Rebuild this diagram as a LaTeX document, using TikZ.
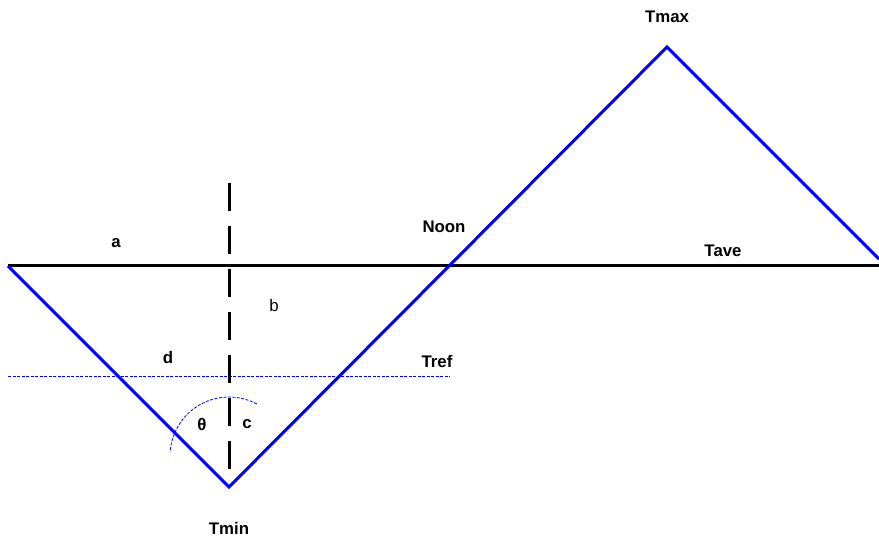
\documentclass[tikz,border=0pt]{standalone}
\usepackage{fontspec}
\setmainfont{Liberation Sans}
\begin{document}
\begin{tikzpicture}[x=1pt,y=-1pt,
  lbl/.style={font=\fontsize{16.8}{18}\selectfont\bfseries, inner sep=0pt},
  lblplain/.style={font=\fontsize{16.8}{18}\selectfont, inner sep=0pt},
  curve/.style={draw=blue, line width=3pt, line join=miter},
  axis/.style={draw=black, line width=3pt},
  vdash/.style={draw=black, line width=3pt, dash pattern=on 28pt off 15pt},
  thindash/.style={draw=blue, line width=0.8pt, dash pattern=on 3pt off 1.5pt}]
\useasboundingbox (0,0) rectangle (879,537);
\coordinate (L) at (8,266);
\coordinate (AR) at (879,266);
\coordinate (Min) at (229,487);
\coordinate (Max) at (667,47);
\coordinate (R) at (879,259);
\coordinate (VT) at (229,183);
\coordinate (VB) at (229,469);
\coordinate (TL) at (8,376);
\coordinate (TR) at (450,376);
\coordinate (AC) at (229,456);
% axis
\draw[axis] (L) -- (AR);
% Tref
\draw[thindash] (TL) -- (TR);
% vertical dashed
\draw[vdash] (VT) -- (VB);
% angle arc
\draw[thindash] (AC) ++(62:59pt) arc[start angle=62, end angle=176, radius=59pt];
% curve
\draw[curve] (L) -- (Min) -- (Max) -- (R);
% labels
\node[lbl] (tmax) at (667,17) {Tmax};
\node[lbl] (noon) at (444,227) {Noon};
\node[lbl] (tave) at (723,251) {Tave};
\node[lbl] (a) at (116,243) {a};
\node[lblplain] (b) at (274,305) {b};
\node[lbl] (d) at (168,357) {d};
\node[lbl] (tref) at (437,361) {Tref};
\node[lbl] (theta) at (202,424) {θ};
\node[lbl] (c) at (247,424) {c};
\node[lbl] (tmin) at (229,528) {Tmin};
\end{tikzpicture}
\end{document}
